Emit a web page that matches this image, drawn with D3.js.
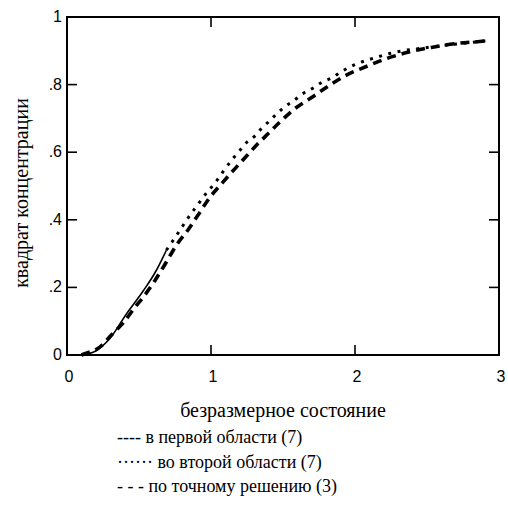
<!DOCTYPE html>
<html>
<head>
<meta charset="utf-8">
<script src="https://cdn.jsdelivr.net/npm/d3@7"></script>
</head>
<body style="margin:0">
<div id="chart"></div>
<script>
// Datos
const xTicks = [0, 1, 2, 3];
const yTicks = [0, 0.2, 0.4, 0.6, 0.8, 1];
const yTickLabels = ['0', '.2', '.4', '.6', '.8', '1'];

// первая область
const xFirst = [0.10, 0.20, 0.30, 0.41, 0.53, 0.62, 0.69];
const yFirst = [0.000, 0.012, 0.050, 0.120, 0.190, 0.250, 0.310];

// вторая область
const xSecond = [0.69, 0.77, 0.84, 0.90, 0.97, 1.03, 1.08, 1.15, 1.20, 1.25, 1.31, 1.35, 1.40, 1.46, 1.51, 1.58, 1.64, 1.71, 1.77, 1.84, 1.90, 1.95, 2.02, 2.09, 2.16, 2.24, 2.33, 2.45, 2.60, 2.75, 2.93];
const ySecond = [0.310, 0.360, 0.405, 0.440, 0.480, 0.510, 0.540, 0.580, 0.605, 0.630, 0.650, 0.670, 0.690, 0.715, 0.734, 0.754, 0.774, 0.790, 0.807, 0.820, 0.837, 0.849, 0.863, 0.873, 0.882, 0.892, 0.900, 0.907, 0.915, 0.922, 0.930];

// точное решение
const xExact = [0.10, 0.14, 0.23, 0.31, 0.39, 0.47, 0.54, 0.61, 0.69, 0.76, 0.84, 0.91, 0.99, 1.08, 1.17, 1.25, 1.33, 1.40, 1.48, 1.58, 1.71, 1.83, 1.94, 2.07, 2.22, 2.38, 2.53, 2.71, 2.85, 2.93];
const yExact = [0.000, 0.006, 0.024, 0.060, 0.095, 0.140, 0.177, 0.220, 0.275, 0.325, 0.370, 0.414, 0.465, 0.510, 0.553, 0.590, 0.627, 0.656, 0.690, 0.728, 0.765, 0.800, 0.828, 0.852, 0.877, 0.897, 0.910, 0.922, 0.927, 0.930];

const legendItems = ['---- в первой области (7)', '······ во второй области (7)', '- - - по точному решению (3)'];

const W = 508, H = 519;
const plotL = 67, plotT = 17, plotR = 499, plotB = 355;

const svg = d3.select('#chart').append('svg')
    .attr('width', W)
    .attr('height', H);

const x = d3.scaleLinear().domain([0, 3]).range([plotL, plotR]);
const y = d3.scaleLinear().domain([0, 1]).range([plotB, plotT]);

const line = d3.line()
    .x(d => x(d[0]))
    .y(d => y(d[1]))
    .curve(d3.curveMonotoneX);

// точное решение
svg.append('path')
    .datum(d3.zip(xExact, yExact))
    .attr('d', line)
    .attr('fill', 'none')
    .attr('stroke', 'black')
    .attr('stroke-width', 3.6)
    .attr('stroke-dasharray', '9,6');

// первая область
svg.append('path')
    .datum(d3.zip(xFirst, yFirst))
    .attr('d', line)
    .attr('fill', 'none')
    .attr('stroke', 'black')
    .attr('stroke-width', 1.6);

// вторая область: пунктир из точек
svg.append('path')
    .datum(d3.zip(xSecond, ySecond))
    .attr('d', line)
    .attr('fill', 'none')
    .attr('stroke', 'black')
    .attr('stroke-width', 3)
    .attr('stroke-dasharray', '3,6.5');

// marco
svg.append('rect')
    .attr('x', x(0)).attr('y', y(1))
    .attr('width', x(3) - x(0)).attr('height', y(0) - y(1))
    .attr('fill', 'none')
    .attr('stroke', 'black')
    .attr('stroke-width', 2);

// ticks hacia dentro en los cuatro lados
const TL = 10;
svg.selectAll('.xtb').data(xTicks).enter().append('line')
    .attr('x1', d => x(d)).attr('x2', d => x(d))
    .attr('y1', plotB).attr('y2', plotB - TL)
    .attr('stroke', 'black').attr('stroke-width', 1.6);
svg.selectAll('.xtt').data(xTicks).enter().append('line')
    .attr('x1', d => x(d)).attr('x2', d => x(d))
    .attr('y1', plotT).attr('y2', plotT + TL)
    .attr('stroke', 'black').attr('stroke-width', 1.6);
svg.selectAll('.ytl').data(yTicks).enter().append('line')
    .attr('x1', plotL).attr('x2', plotL + TL)
    .attr('y1', d => y(d)).attr('y2', d => y(d))
    .attr('stroke', 'black').attr('stroke-width', 1.6);
svg.selectAll('.ytr').data(yTicks).enter().append('line')
    .attr('x1', plotR).attr('x2', plotR - TL)
    .attr('y1', d => y(d)).attr('y2', d => y(d))
    .attr('stroke', 'black').attr('stroke-width', 1.6);

// etiquetas de ticks
svg.selectAll('.xlab').data(xTicks).enter().append('text')
    .attr('x', d => x(d) + 2)
    .attr('y', plotB + 27)
    .attr('text-anchor', 'middle')
    .attr('font-family', 'Liberation Sans')
    .attr('font-size', 16)
    .text(d => d);
svg.selectAll('.ylab').data(yTicks).enter().append('text')
    .attr('x', plotL - 5)
    .attr('y', d => y(d) + 5)
    .attr('text-anchor', 'end')
    .attr('font-family', 'Liberation Sans')
    .attr('font-size', 16)
    .text((d, i) => yTickLabels[i]);

// títulos
svg.append('text')
    .attr('x', 283).attr('y', 417)
    .attr('text-anchor', 'middle')
    .attr('font-family', 'Liberation Serif')
    .attr('font-size', 20)
    .text('безразмерное состояние');
svg.append('text')
    .attr('transform', 'translate(28,193) rotate(-90)')
    .attr('text-anchor', 'middle')
    .attr('font-family', 'Liberation Serif')
    .attr('font-size', 20)
    .text('квадрат концентрации');

// leyenda
svg.selectAll('.legend').data(legendItems).enter().append('text')
    .attr('x', 117)
    .attr('y', (d, i) => 443 + i * 24.5)
    .attr('font-family', 'Liberation Serif')
    .attr('font-size', 18)
    .text(d => d);
</script>
</body>
</html>
